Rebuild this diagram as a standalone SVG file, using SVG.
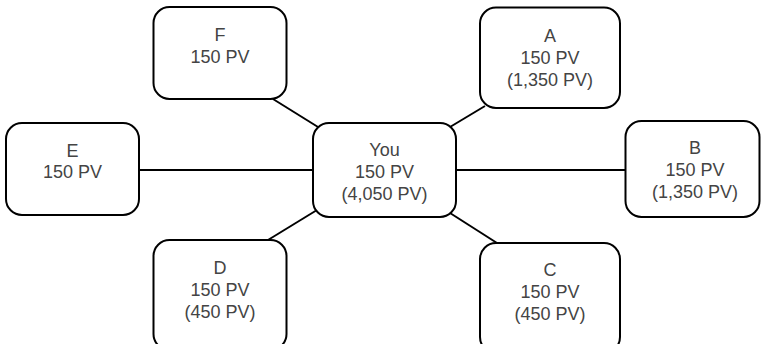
<svg xmlns="http://www.w3.org/2000/svg" width="761" height="344" viewBox="0 0 761 344">
<style>
.box{fill:#fff;stroke:#000;stroke-width:2}
.t{font-family:"Liberation Sans",Arial,sans-serif;font-size:18px;fill:#444;text-anchor:middle}
.c line{stroke:#000;stroke-width:2}
</style>
<rect width="761" height="344" fill="#fff"/>
<g class="c" id="connectors">
<line x1="273" y1="99" x2="318" y2="127"/>
<line x1="485" y1="106" x2="450" y2="127"/>
<line x1="139" y1="170" x2="313" y2="170"/>
<line x1="456" y1="170" x2="625" y2="170"/>
<line x1="317" y1="210" x2="268" y2="240"/>
<line x1="450" y1="213" x2="497" y2="243"/>
</g>
<g id="F"><rect class="box" x="153.5" y="7" width="133" height="92" rx="16"/>
<text class="t" x="220" y="41">F</text><text class="t" x="220" y="63">150 PV</text></g>
<g id="A"><rect class="box" x="480" y="7.5" width="140" height="100.5" rx="16"/>
<text class="t" x="550" y="42">A</text><text class="t" x="550" y="64">150 PV</text><text class="t" x="550" y="86">(1,350 PV)</text></g>
<g id="E"><rect class="box" x="6" y="123" width="133" height="92" rx="16"/>
<text class="t" x="72.5" y="157">E</text><text class="t" x="72.5" y="178">150 PV</text></g>
<g id="You"><rect class="box" x="313" y="123" width="143" height="94" rx="16"/>
<text class="t" x="384.5" y="156">You</text><text class="t" x="384.5" y="178">150 PV</text><text class="t" x="384.5" y="200">(4,050 PV)</text></g>
<g id="B"><rect class="box" x="625.5" y="121" width="134" height="96" rx="16"/>
<text class="t" x="695" y="154">B</text><text class="t" x="695" y="176">150 PV</text><text class="t" x="695" y="198">(1,350 PV)</text></g>
<g id="D"><rect class="box" x="153.5" y="240" width="133" height="110" rx="16"/>
<text class="t" x="220" y="274">D</text><text class="t" x="220" y="296">150 PV</text><text class="t" x="220" y="318">(450 PV)</text></g>
<g id="C"><rect class="box" x="480" y="243" width="140" height="110" rx="16"/>
<text class="t" x="550" y="276">C</text><text class="t" x="550" y="298">150 PV</text><text class="t" x="550" y="320">(450 PV)</text></g>
</svg>
